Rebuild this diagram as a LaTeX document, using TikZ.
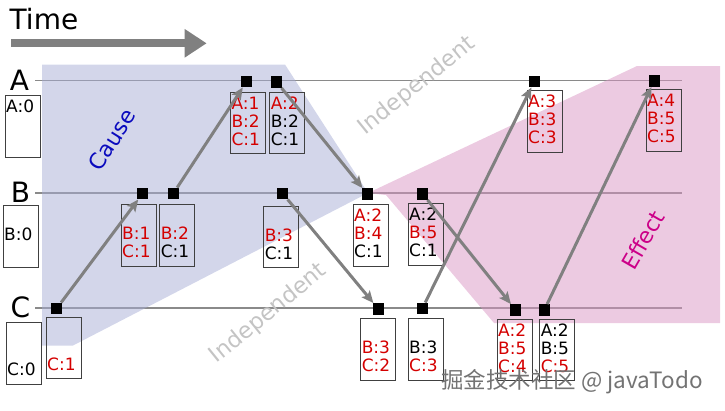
\documentclass[tikz,border=0pt]{standalone}
\usepackage{fontspec}
\setmainfont{DejaVu Sans}
\newfontfamily\cjkfont{Noto Sans CJK SC}
\usetikzlibrary{arrows.meta}
\definecolor{evred}{HTML}{D40000}
\definecolor{causefill}{RGB}{167,173,213}
\definecolor{effectfill}{RGB}{217,149,195}
\definecolor{causeblue}{HTML}{0A0ABE}
\definecolor{effectmag}{HTML}{CC0088}
\definecolor{linegray}{HTML}{8A8A8A}
\definecolor{arrgray}{HTML}{808080}
\definecolor{indepgray}{HTML}{C4C4C4}
\newcommand\redtx{\color{evred}}
\tikzset{
  evboxst/.style={draw=black!75, line width=0.9pt, minimum width=35pt, minimum height=61.5pt, inner sep=0pt, anchor=north west},
  evtxt/.style={anchor=base west, inner sep=0pt, font=\fontsize{17}{18}\selectfont},
  evsq/.style={fill=black, minimum size=11.5pt, inner sep=0pt},
  arr/.style={draw=arrgray, line width=3pt, -{Stealth[length=12pt,width=10.5pt,inset=2.5pt]}},
  procline/.style={draw=linegray, line width=1.1pt},
  rowlabel/.style={anchor=base, inner sep=0pt, font=\fontsize{28}{30}\selectfont},
  indep/.style={text=indepgray, font=\fontsize{22.5}{24}\selectfont, rotate=39, inner sep=0pt},
}
\newcommand\evbox[6]{%
  \node[evboxst] (#1) at (#2,#3) {};
  \node[evtxt] (#1-a) at (#2+1.3,#3+17.5) {#4};
  \node[evtxt] (#1-b) at (#2+1.3,#3+35.5) {#5};
  \node[evtxt] (#1-c) at (#2+1.3,#3+53.5) {#6};
}
\begin{document}
\begin{tikzpicture}[x=1pt,y=-1pt]
\useasboundingbox (0,0) rectangle (725,410);
% time arrow
\node[anchor=base west, inner sep=0pt, font=\fontsize{28}{30}\selectfont] (time) at (9.5,29.5) {Time};
\coordinate (ts) at (11,43.3);
\coordinate (te) at (206.7,43.3);
\draw[draw=arrgray, line width=8pt, -{Triangle[length=22pt,width=27pt]}] (ts) -- (te);
% process lines
\node[rowlabel] (la) at (19.5,90) {A};
\node[rowlabel] (lb) at (20.5,202.7) {B};
\node[rowlabel] (lc) at (20.3,317.5) {C};
\coordinate (a0) at (35,80.5);  \coordinate (a1) at (681.7,80.5);
\coordinate (b0) at (35,193);   \coordinate (b1) at (681.7,193);
\coordinate (c0) at (35,308);   \coordinate (c1) at (681.7,308);
\draw[procline] (a0) -- (a1);
\draw[procline] (b0) -- (b1);
\draw[procline] (c0) -- (c1);
% regions
\fill[causefill, fill opacity=0.5] (42,64.5) -- (285,64.5) -- (368,193) -- (73,345.5) -- (42,345.5) -- cycle;
\fill[effectfill, fill opacity=0.5] (368,193) -- (637,66) -- (720,66) -- (720,323) -- (494,323) -- (386,195) -- cycle;
% labels
\node[text=causeblue, font=\fontsize{22}{24}\selectfont, rotate=58, inner sep=0pt] (cause) at (112,140) {Cause};
\node[text=effectmag, font=\fontsize{22}{24}\selectfont, rotate=60, inner sep=0pt] (effect) at (643,240) {Effect};
\node[indep] (ind1) at (417,86) {Independent};
\node[indep] (ind2) at (268.5,313.5) {Independent};
% boxes
\evbox{bA0}{4.7}{95}{A:0}{}{}
\evbox{bB0}{2.7}{205}{}{B:0}{}
\evbox{bC0}{5.7}{322.3}{}{}{C:0}
\evbox{ba1}{230}{91.7}{\redtx A:1}{\redtx B:2}{\redtx C:1}
\evbox{ba2}{269.3}{91.7}{\redtx A:2}{B:2}{C:1}
\evbox{ba3}{526.7}{90}{\redtx A:3}{\redtx B:3}{\redtx C:3}
\evbox{ba4}{645.7}{89}{\redtx A:4}{\redtx B:5}{\redtx C:5}
\evbox{bb1}{120.7}{204.3}{}{\redtx B:1}{\redtx C:1}
\evbox{bb2}{159.3}{204.3}{}{\redtx B:2}{C:1}
\evbox{bb3}{263.3}{205.7}{}{\redtx B:3}{C:1}
\evbox{bb4}{352.7}{204.3}{\redtx A:2}{\redtx B:4}{C:1}
\evbox{bb5}{407.7}{203.3}{A:2}{\redtx B:5}{C:1}
\evbox{bc1}{45.7}{316.7}{}{}{\redtx C:1}
\evbox{bc2}{360.3}{318.3}{}{\redtx B:3}{\redtx C:2}
\evbox{bc3}{407.7}{318.3}{}{B:3}{\redtx C:3}
\evbox{bc4}{496.7}{318.5}{\redtx A:2}{\redtx B:5}{\redtx C:4}
\evbox{bc5}{539.3}{318.5}{A:2}{B:5}{\redtx C:5}
% event squares
\node[evsq] (sa1) at (246.7,81.5) {};
\node[evsq] (sa2) at (276.7,82) {};
\node[evsq] (sa3) at (534.3,81.5) {};
\node[evsq] (sa4) at (654.3,81) {};
\node[evsq] (sb1) at (142.7,193.5) {};
\node[evsq] (sb2) at (173.3,193.5) {};
\node[evsq] (sb3) at (282.7,193.5) {};
\node[evsq] (sb4) at (367.3,194) {};
\node[evsq] (sb5) at (422.7,194) {};
\node[evsq] (sc1) at (56.7,308.5) {};
\node[evsq] (sc2) at (378.3,309) {};
\node[evsq] (sc3) at (422.3,308.5) {};
\node[evsq] (sc4) at (515.7,310) {};
\node[evsq] (sc5) at (544.3,310) {};
% messages
\draw[arr] (sc1) -- (sb1);
\draw[arr] (sb2) -- (sa1);
\draw[arr] (sa2) -- (sb4);
\draw[arr] (sb3) -- (sc2);
\draw[arr] (sc3) -- (sa3);
\draw[arr] (sb5) -- (sc4);
\draw[arr] (sc5) -- (sa4);
% watermark
\node[font=\cjkfont\fontsize{22.5}{24}\selectfont, text=black!55, inner sep=0pt] (wm) at (572,382) {掘金技术社区 @ javaTodo};
\end{tikzpicture}
\end{document}
